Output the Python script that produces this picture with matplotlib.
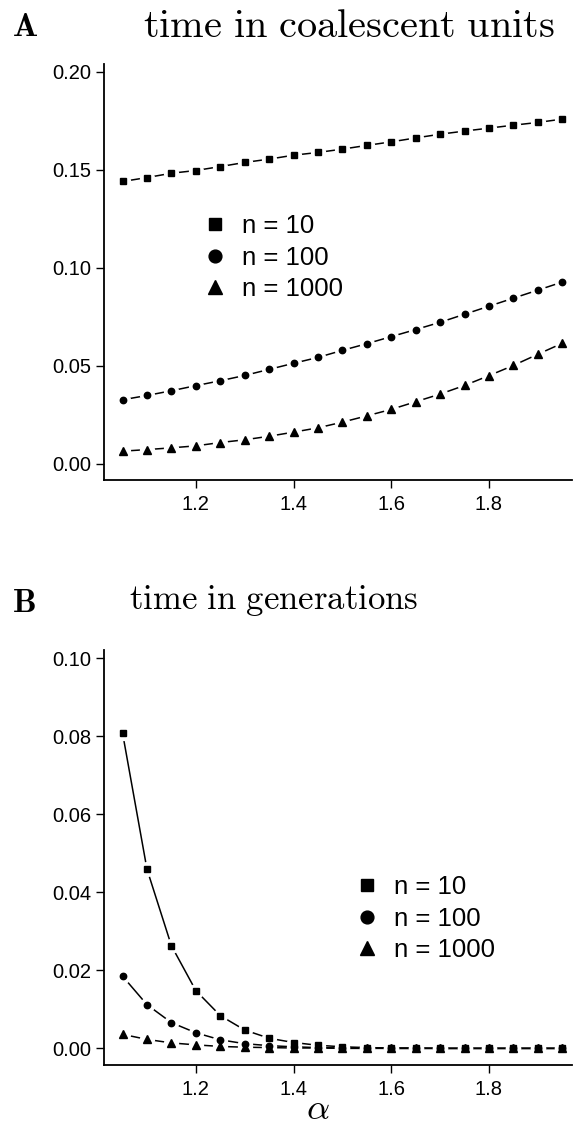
import matplotlib
matplotlib.use("Agg")
import matplotlib.pyplot as plt
from matplotlib.lines import Line2D
import numpy as np

plt.rcParams['font.family'] = ['Liberation Sans', 'DejaVu Sans']
plt.rcParams['mathtext.fontset'] = 'cm'

# alpha values
alpha = [1.05, 1.10, 1.15, 1.20, 1.25, 1.30, 1.35, 1.40, 1.45, 1.50,
         1.55, 1.60, 1.65, 1.70, 1.75, 1.80, 1.85, 1.90, 1.95]

# panel A: time in coalescent units
coal_n10 = [0.1440, 0.1460, 0.1482, 0.1496, 0.1516, 0.1537, 0.1554, 0.1574, 0.1588, 0.1605,
            0.1624, 0.1642, 0.1662, 0.1681, 0.1697, 0.1712, 0.1727, 0.1741, 0.1758]
coal_n100 = [0.0327, 0.0349, 0.0373, 0.0399, 0.0424, 0.0451, 0.0482, 0.0513, 0.0543, 0.0579,
             0.0613, 0.0649, 0.0685, 0.0722, 0.0763, 0.0804, 0.0845, 0.0886, 0.0927]
coal_n1000 = [0.0065, 0.0073, 0.0082, 0.0092, 0.0109, 0.0123, 0.0141, 0.0162, 0.0184, 0.0213,
              0.0245, 0.0278, 0.0317, 0.0356, 0.0400, 0.0450, 0.0502, 0.0559, 0.0615]

# panel B: time in generations
gen_n10 = [0.0808, 0.0459, 0.0263, 0.0148, 0.0084, 0.0047, 0.0026, 0.0015, 0.0008, 0.0004,
           0.0002, 0.0001, 0.0001, 0.0000, 0.0000, 0.0000, 0.0000, 0.0000, 0.0000]
gen_n100 = [0.0185, 0.0112, 0.0066, 0.0040, 0.0022, 0.0012, 0.0007, 0.0004, 0.0002, 0.0001,
            0.0001, 0.0000, 0.0000, 0.0000, 0.0000, 0.0000, 0.0000, 0.0000, 0.0000]
gen_n1000 = [0.0036, 0.0023, 0.0014, 0.0009, 0.0005, 0.0003, 0.0002, 0.0001, 0.0001, 0.0000,
             0.0000, 0.0000, 0.0000, 0.0000, 0.0000, 0.0000, 0.0000, 0.0000, 0.0000]

labels = ['n = 10', 'n = 100', 'n = 1000']
markers = ['s', 'o', '^']
msizes = [4.6, 4.6, 5.2]

fig = plt.figure(figsize=(5.75, 11.26), dpi=100)
W, H = 575.0, 1126.0


def panel(ax, series, ylim, yticks):
    # R style type="b": line segments broken around the points
    for ys in series:
        ax.plot(alpha, ys, color='black', lw=1.1, zorder=1)
    for ys in series:
        ax.plot(alpha, ys, ls='none', marker='o', ms=11, mfc='white', mec='none', zorder=2)
    for ys, m, ms in zip(series, markers, msizes):
        ax.plot(alpha, ys, ls='none', marker=m, ms=ms, color='black', zorder=3)
    ax.set_xlim(1.012, 1.97)
    ax.set_ylim(*ylim)
    ax.set_yticks(yticks)
    ax.set_yticklabels(['%.2f' % v for v in yticks])
    ax.set_xticks([1.2, 1.4, 1.6, 1.8])
    ax.set_xticklabels(['1.2', '1.4', '1.6', '1.8'])
    ax.spines['top'].set_visible(False)
    ax.spines['right'].set_visible(False)
    for s in ['left', 'bottom']:
        ax.spines[s].set_linewidth(1.3)
    ax.tick_params(axis='both', direction='out', length=6, width=1.0, labelsize=14.5, colors='black')
    ax.tick_params(axis='y', pad=3)
    ax.tick_params(axis='x', pad=5)


def legend(ax, anchor):
    handles = [Line2D([], [], ls='none', marker=m, ms=ms * 2.0, color='black')
               for m, ms in zip(markers, msizes)]
    ax.legend(handles, labels, loc='upper left', bbox_to_anchor=anchor,
              bbox_transform=fig.transFigure, frameon=False, fontsize=18.5,
              handlelength=1.0, handletextpad=0.55, labelspacing=0.3, borderpad=0)


axA = fig.add_axes([104 / W, 1 - 480 / H, 468 / W, (480 - 64) / H])
panel(axA, [coal_n10, coal_n100, coal_n1000], (-0.0082, 0.2039), [0.0, 0.05, 0.10, 0.15, 0.20])
legend(axA, (189 / W, 1 - 201 / H))

axB = fig.add_axes([104 / W, 1 - 1065 / H, 468 / W, (1065 - 650) / H])
panel(axB, [gen_n10, gen_n100, gen_n1000], (-0.00426, 0.1021), [0.0, 0.02, 0.04, 0.06, 0.08, 0.10])
legend(axB, (341 / W, 1 - 862 / H))

fig.text(12 / W, 1 - 28 / H, r'$\mathbf{A}$', fontsize=24, va='center', ha='left')
fig.text(349 / W, 1 - 26 / H, r'$\mathrm{time\ in\ coalescent\ units}$', fontsize=29,
         va='center', ha='center')
fig.text(12 / W, 1 - 603 / H, r'$\mathbf{B}$', fontsize=24, va='center', ha='left')
fig.text(274 / W, 1 - 601 / H, r'$\mathrm{time\ in\ generations}$', fontsize=25,
         va='center', ha='center')
fig.text(318 / W, 1 - 1119 / H, r'$\alpha$', fontsize=26, va='baseline', ha='center')

fig.savefig('out.png', dpi=100)
